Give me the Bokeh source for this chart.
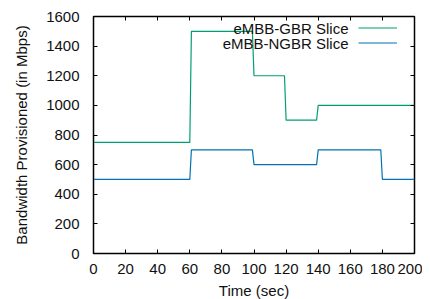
from bokeh.plotting import figure
from bokeh.models import (LinearAxis, SingleIntervalTicker, CustomJSTickFormatter,
                          Legend, LegendItem, Label, Range1d)
from bokeh.embed import file_html
from bokeh.resources import INLINE

# data
gbr_t = [0, 60, 61, 99, 100, 119, 120, 139, 140, 200]
gbr_bw = [750, 750, 1500, 1500, 1200, 1200, 900, 900, 1000, 1000]
ngbr_t = [0, 60, 61, 99, 100, 139, 140, 179, 180, 200]
ngbr_bw = [500, 500, 700, 700, 600, 600, 700, 700, 500, 500]
series_names = ["eMBB-GBR Slice", "eMBB-NGBR Slice"]
x_label = "Time (sec)"
y_label = "Bandwidth Provisioned (in Mbps)"

FONT = "Liberation Sans"
FS = "15px"

p = figure(frame_width=321, frame_height=237, output_backend="svg", toolbar_location=None,
           x_range=Range1d(0, 200), y_range=Range1d(0, 1600),
           min_border_left=93, min_border_right=8, min_border_top=16, min_border_bottom=30)
p.grid.visible = False
p.outline_line_color = "black"
p.outline_line_width = 1.5
p.background_fill_color = "white"

r1 = p.line(gbr_t, gbr_bw, line_color="#009e73", line_width=1.2)
r2 = p.line(ngbr_t, ngbr_bw, line_color="#0072b2", line_width=1.2)

p.xaxis.ticker = SingleIntervalTicker(interval=20)
p.yaxis.ticker = SingleIntervalTicker(interval=200)

for ax in (p.xaxis[0], p.yaxis[0]):
    ax.major_tick_in = 4
    ax.major_tick_out = 0
    ax.minor_tick_line_color = None
    ax.axis_line_color = "black"
    ax.major_tick_line_color = "black"
    ax.major_label_text_font = FONT
    ax.major_label_text_font_size = FS
    ax.major_label_text_color = "#111111"
    ax.axis_label_text_font = FONT
    ax.axis_label_text_font_size = FS
    ax.axis_label_text_font_style = "normal"
    ax.axis_label_text_color = "#111111"

p.xaxis.axis_label = x_label
p.yaxis.axis_label = y_label
p.xaxis.major_label_standoff = 6
p.xaxis.axis_label_standoff = 5
p.yaxis.major_label_standoff = 10
p.yaxis.axis_label_standoff = 13

blank = CustomJSTickFormatter(code="return ''")
top = LinearAxis(ticker=SingleIntervalTicker(interval=20), formatter=blank,
                 major_tick_in=4, major_tick_out=0, minor_tick_line_color=None,
                 major_label_standoff=0, axis_line_color=None, major_tick_line_color="black")
right = LinearAxis(ticker=SingleIntervalTicker(interval=200), formatter=blank,
                   major_tick_in=4, major_tick_out=0, minor_tick_line_color=None,
                   major_label_standoff=0, axis_line_color=None, major_tick_line_color="black")
p.add_layout(top, "above")
p.add_layout(right, "right")

legend = Legend(items=[LegendItem(label=" ", renderers=[r1]),
                       LegendItem(label=" ", renderers=[r2])],
                location=(265, 203), padding=0, margin=0, spacing=0,
                glyph_width=39, glyph_height=15, label_width=0, label_height=15,
                label_standoff=0, label_text_font_size="13px",
                border_line_color=None, background_fill_alpha=0)
p.add_layout(legend, "center")

for i, name in enumerate(series_names):
    p.add_layout(Label(x=255, y=225 - 15 * i, x_units="screen", y_units="screen",
                       text=name, text_align="right", text_baseline="middle",
                       text_font=FONT, text_font_size=FS, text_color="#111111"))

open("out.html", "w").write(file_html(p, INLINE))
